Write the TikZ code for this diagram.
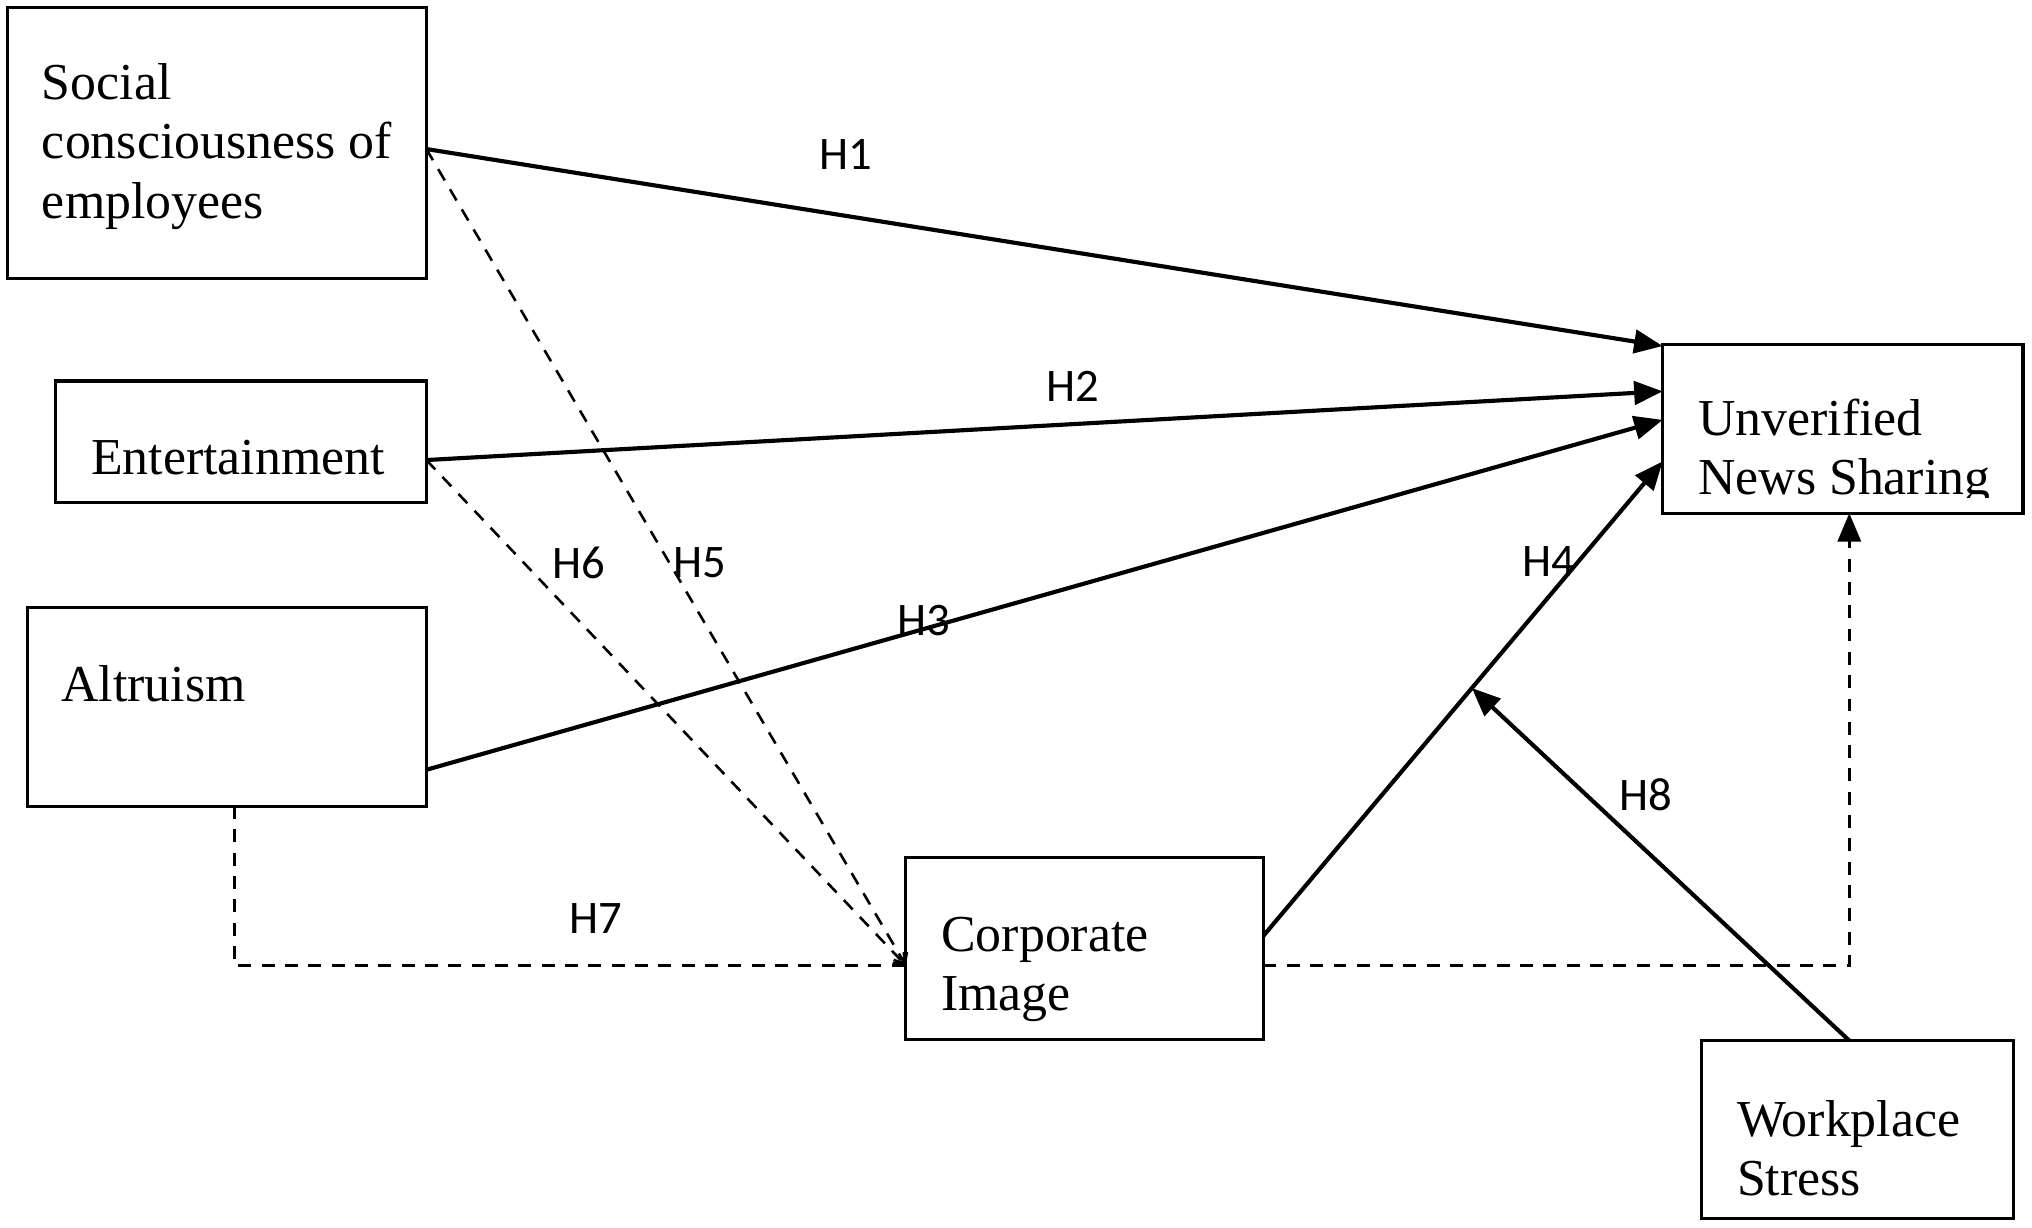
\documentclass[tikz,border=0pt]{standalone}
\usepackage{fontspec}
\setmainfont{Liberation Serif}
\newfontfamily\labfont{Carlito}
\usetikzlibrary{arrows.meta,fit,calc}
\begin{document}
\begin{tikzpicture}[x=0.5pt,y=-0.5pt,
  box/.style={draw,line width=1.2pt,inner sep=0pt},
  boxtext/.style={font=\fontsize{20}{23}\selectfont,align=left,anchor=west,inner sep=0pt},
  hlab/.style={font=\labfont\fontsize{18}{20}\selectfont,inner sep=0pt},
  solidarrow/.style={line width=1.6pt,-{Triangle[length=11pt,width=9pt]}},
  dashline/.style={line width=1pt,dash pattern=on 5pt off 4pt},
  dasharrow/.style={dashline,-{Straight Barb[length=3.5pt,width=6pt,line width=1pt]}}]
\useasboundingbox (0,0) rectangle (1568,947);
% boxes
\node[box,fit={(6,6) (329,215)}] (soc) {};
\node[box,fit={(43,294) (329,388)}] (ent) {};
\node[box,fit={(21,469) (329,622)}] (alt) {};
\node[box,fit={(699,662) (975,802)}] (cor) {};
\node[box,fit={(1283,266) (1561,396)}] (unv) {};
\node[box,fit={(1313,803) (1554,940)}] (wor) {};
% texts
\node[boxtext] (socT) at (32,113) {Social\\consciousness of\\employees};
\node[boxtext] (entT) at (70,353) {Entertainment};
\node[boxtext] (altT) at (47,528) {Altruism};
\node[boxtext] (corT) at (726,748) {Corporate\\Image};
\begin{scope}
\clip (1283,266) rectangle (1561,384);
\node[boxtext] (unvT) at (1310,349) {Unverified\\News Sharing};
\end{scope}
\node[boxtext] (worT) at (1340,886) {Workplace\\Stress};
% coordinates
\coordinate (socR) at (329,115);
\coordinate (entR) at (329,355);
\coordinate (altR) at (329,594);
\coordinate (altB) at (181,622);
\coordinate (corL) at (699,745);
\coordinate (corR1) at (975,722);
\coordinate (corR2) at (975,745);
\coordinate (unv1) at (1283,267);
\coordinate (unv2) at (1283,302);
\coordinate (unv3) at (1283,324);
\coordinate (unv4) at (1283,356);
\coordinate (unvB) at (1427,396);
\coordinate (worT0) at (1427,803);
\coordinate (mod) at ($(corR1)!0.522!(unv4)$);
% solid arrows
\draw[solidarrow] (socR) -- (unv1);
\draw[solidarrow] (entR) -- (unv2);
\draw[solidarrow] (altR) -- (unv3);
\draw[solidarrow] (corR1) -- (unv4);
\draw[solidarrow] (worT0) -- (mod);
% dashed
\draw[dasharrow] (socR) -- (corL);
\draw[dasharrow] (entR) -- (corL);
\draw[dashline] (altB) |- (corL);
\draw[dashline,-{Triangle[length=11pt,width=9pt]}] (corR2) -| (unvB);
% labels
\node[hlab] (h1) at (653,119) {H1};
\node[hlab] (h2) at (828,298) {H2};
\node[hlab] (h3) at (713,479) {H3};
\node[hlab] (h4) at (1195,433) {H4};
\node[hlab] (h5) at (540,434) {H5};
\node[hlab] (h6) at (447,434) {H6};
\node[hlab] (h7) at (460,709) {H7};
\node[hlab] (h8) at (1270,613) {H8};
\end{tikzpicture}
\end{document}
